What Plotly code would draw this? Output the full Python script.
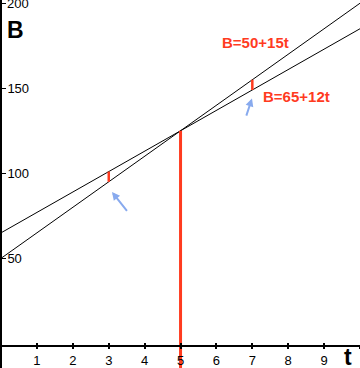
import plotly.graph_objects as go

# Data
t_vals = [0, 10]
line1_intercept, line1_slope = 50, 15   # B = 50 + 15t
line2_intercept, line2_slope = 65, 12   # B = 65 + 12t
gap_times = [3, 7]
meet_time = 5
x_ticks = [1, 2, 3, 4, 5, 6, 7, 8, 9, 10]
x_tick_text = ["1", "2", "3", "4", "5", "6", "7", "8", "9", ""]
y_ticks = [50, 100, 150, 200]
y_tick_text = ["50", "100", "150", "200"]
# blue arrows: (head_t, head_B, tail_t, tail_B)
arrows = [(3.09, 89, 3.54, 77), (6.99, 144, 6.82, 133)]
# equation labels: (text, t, B)
labels = [("B=50+15t", 7.1, 177), ("B=65+12t", 8.22, 145)]

X_RANGE = [-0.03, 10.0]
Y_RANGE = [-14.5, 201.9]
RED = "#ff3b1f"
BLUE = "#88aaee"

def b1(t):
    return line1_intercept + line1_slope * t

def b2(t):
    return line2_intercept + line2_slope * t

fig = go.Figure()
fig.add_trace(go.Scatter(x=t_vals, y=[b1(t) for t in t_vals], mode="lines",
                         line=dict(color="black", width=1), hoverinfo="skip"))
fig.add_trace(go.Scatter(x=t_vals, y=[b2(t) for t in t_vals], mode="lines",
                         line=dict(color="black", width=1), hoverinfo="skip"))

# vertical red line at meeting time
fig.add_trace(go.Scatter(x=[meet_time, meet_time], y=[Y_RANGE[0], b1(meet_time)], mode="lines",
                         line=dict(color=RED, width=3), hoverinfo="skip"))
# gaps
for gt in gap_times:
    fig.add_trace(go.Scatter(x=[gt, gt], y=[b1(gt), b2(gt)], mode="lines",
                             line=dict(color=RED, width=2.5), hoverinfo="skip"))

# ghost trace for xaxis2
fig.add_trace(go.Scatter(x=[0], y=[0], xaxis="x2", mode="markers",
                         marker=dict(opacity=0), hoverinfo="skip"))

annotations = [
    dict(text="<b>B</b>", x=5/360, y=1-30/368, xref="paper", yref="paper",
         xanchor="left", yanchor="middle", showarrow=False,
         font=dict(family="Liberation Sans", size=23, color="black")),
    dict(text="<b>t</b>", x=348/360, y=1-357/368, xref="paper", yref="paper",
         xanchor="center", yanchor="middle", showarrow=False,
         font=dict(family="Liberation Sans", size=23, color="black")),
    # top tick label (partly beyond the plot top, as in the original)
    dict(text=y_tick_text[-1], x=5/360, y=y_ticks[-1], xref="paper", yref="y",
         xanchor="left", yanchor="middle", showarrow=False,
         font=dict(family="Liberation Sans", size=13, color="black")),
]
for txt, lx, ly in labels:
    annotations.append(dict(text="<b>" + txt + "</b>", x=lx, y=ly, xref="x", yref="y",
                            xanchor="center", yanchor="middle", showarrow=False,
                            font=dict(family="Liberation Sans", size=15, color=RED)))
for hx, hy, tx, ty in arrows:
    annotations.append(dict(x=hx, y=hy, ax=tx, ay=ty, xref="x", yref="y",
                            axref="x", ayref="y", showarrow=True, arrowhead=2,
                            arrowsize=0.8, arrowwidth=2, arrowcolor=BLUE, text=""))

fig.update_layout(
    width=360, height=368,
    margin=dict(l=0, r=0, t=0, b=0, autoexpand=False),
    paper_bgcolor="white", plot_bgcolor="white",
    showlegend=False,
    annotations=annotations,
    xaxis=dict(range=X_RANGE, showgrid=False, zeroline=False, automargin=False,
               showline=True, linecolor="black", linewidth=1.5,
               anchor="free", position=(368 - 345.7) / 368,
               tickvals=x_ticks, ticktext=x_tick_text,
               ticks="outside", ticklen=3, tickwidth=1.5, tickcolor="black",
               tickfont=dict(family="Liberation Sans", size=13, color="black")),
    xaxis2=dict(range=X_RANGE, overlaying="x", showgrid=False, zeroline=False,
                automargin=False,
                showline=False, anchor="free", position=(368 - 345.7) / 368,
                tickvals=x_ticks, showticklabels=False,
                ticks="inside", ticklen=3, tickwidth=1.5, tickcolor="black"),
    yaxis=dict(range=Y_RANGE, showgrid=False, zeroline=False, automargin=False,
               showline=True, linecolor="black", linewidth=2,
               anchor="free", position=1/360,
               tickvals=y_ticks, ticktext=y_tick_text,
               ticks="inside", ticklen=4, tickwidth=1, tickcolor="black",
               ticklabelposition="inside", ticklabelstandoff=1,
               tickfont=dict(family="Liberation Sans", size=13, color="black")),
)

fig.write_html("out.html", config={"displayModeBar": False},
               post_script="document.body.style.margin='0';document.body.style.overflow='hidden';")
